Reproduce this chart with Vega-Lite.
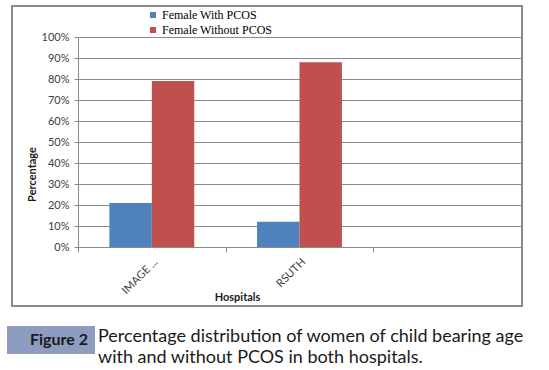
{
  "$schema": "https://vega.github.io/schema/vega-lite/v6.json",
  "width": 510,
  "height": 300,
  "autosize": {"type": "none"},
  "padding": {"left": 12, "top": 6, "right": 27, "bottom": 64},
  "background": "white",
  "title": {
    "text": ["Percentage distribution of women of child bearing age", "with and without PCOS in both hospitals."],
    "orient": "bottom",
    "anchor": "start",
    "frame": "group",
    "font": "Lato",
    "fontSize": 18,
    "fontWeight": "normal",
    "color": "#1a1a1a",
    "lineHeight": 21,
    "baseline": "top",
    "dx": 86,
    "offset": -26
  },
  "config": {
    "view": {"stroke": "#8a8a8a", "strokeWidth": 2}
  },
  "data": {
    "values": [
      {"hospital": "IMAGE ...", "group": "Female With PCOS", "value": 0.21},
      {"hospital": "IMAGE ...", "group": "Female Without PCOS", "value": 0.79},
      {"hospital": "RSUTH", "group": "Female With PCOS", "value": 0.12},
      {"hospital": "RSUTH", "group": "Female Without PCOS", "value": 0.88}
    ]
  },
  "mark": {"type": "bar"},
  "encoding": {
    "x": {
      "field": "hospital",
      "type": "nominal",
      "scale": {"domain": ["IMAGE ...", "RSUTH", "-"], "range": [66, 509], "paddingInner": 0, "paddingOuter": 0},
      "axis": {
        "offset": -59,
        "tickBand": "extent",
        "tickSize": 5,
        "tickColor": "#8a8a8a",
        "domainColor": "#8a8a8a",
        "labelAngle": -45,
        "labelAlign": "right",
        "labelBaseline": "middle",
        "labelPadding": 8,
        "labelOffset": 4,
        "labelFont": "Lato",
        "labelFontSize": 11,
        "labelColor": "#404040",
        "labelExpr": "datum.value == '-' ? '' : datum.value",
        "grid": false,
        "title": "Hospitals",
        "titleFont": "Lato",
        "titleFontSize": 11,
        "titleFontWeight": "bold",
        "titleColor": "#1a1a1a",
        "titleX": 225,
        "titleY": 50,
        "titleAlign": "center",
        "titleBaseline": "middle"
      }
    },
    "xOffset": {
      "field": "group",
      "scale": {"paddingOuter": 0.74, "paddingInner": 0}
    },
    "y": {
      "field": "value",
      "type": "quantitative",
      "scale": {"domain": [0, 1], "range": [241, 31]},
      "axis": {
        "values": [0, 0.1, 0.2, 0.3, 0.4, 0.5, 0.6, 0.7, 0.8, 0.9, 1],
        "format": ".0%",
        "offset": -66,
        "tickSize": 4,
        "tickColor": "#8a8a8a",
        "domainColor": "#8a8a8a",
        "gridColor": "#8a8a8a",
        "grid": true,
        "labelPadding": 5,
        "labelFont": "Lato",
        "labelFontSize": 11,
        "labelColor": "#404040",
        "title": "Percentage",
        "titleFont": "Lato",
        "titleFontSize": 11,
        "titleFontWeight": "bold",
        "titleColor": "#1a1a1a",
        "titleX": -46,
        "titleY": 168,
        "titleAngle": -90,
        "titleAlign": "center",
        "titleBaseline": "middle"
      }
    },
    "color": {
      "field": "group",
      "type": "nominal",
      "scale": {"domain": ["Female With PCOS", "Female Without PCOS"], "range": ["#4F81BD", "#C0504D"]},
      "legend": {
        "orient": "none",
        "legendX": 135,
        "legendY": 3,
        "title": null,
        "symbolType": "square",
        "symbolSize": 36,
        "symbolStrokeWidth": 0,
        "labelFont": "Liberation Serif",
        "labelFontSize": 12,
        "labelColor": "#000000",
        "labelOffset": 3,
        "rowPadding": 3
      }
    },
    "opacity": {
      "datum": "Figure 2",
      "type": "nominal",
      "scale": {"range": [1, 1]},
      "legend": {
        "orient": "none",
        "legendX": -5,
        "legendY": 320,
        "title": null,
        "fillColor": "#8d9cc0",
        "padding": 6,
        "symbolSize": 0,
        "symbolOpacity": 0,
        "labelOffset": 1,
        "labelFont": "Lato",
        "labelFontSize": 16,
        "labelFontWeight": "bold",
        "labelColor": "#1a1a1a"
      }
    }
  }
}
